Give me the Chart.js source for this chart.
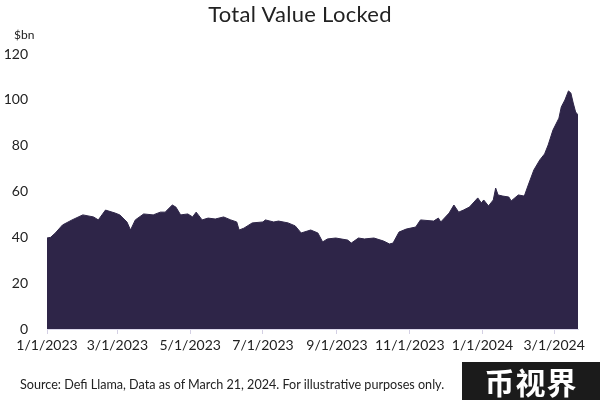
<!DOCTYPE html>
<html>
<head>
<meta charset="utf-8">
<script src="https://cdn.jsdelivr.net/npm/chart.js@4.4.1/dist/chart.umd.min.js"></script>
<style>
  body { margin: 0; background: #fff; }
  #wrap { position: relative; width: 600px; height: 400px; font-family: Lato, sans-serif; color: #222; }
  #title { position: absolute; top: 0px; left: 0; width: 600px; text-align: center; font-size: 22px; letter-spacing: 0.3px; }
  #unit { position: absolute; top: 27px; left: 14px; font-size: 12px; }
  #source { position: absolute; top: 377px; left: 20px; font-size: 12.6px; }
  #mark { position: absolute; left: 462px; top: 362px; width: 138px; height: 38px; background: #1b1b1b;
          color: #fff; font-family: "Noto Sans CJK SC", sans-serif; font-weight: bold; font-size: 30px;
          line-height: 38px; text-align: center; letter-spacing: 1px; }
</style>
</head>
<body>
<div id="wrap">
  <canvas id="tvlChart" width="600" height="400"></canvas>
  <div id="title">Total Value Locked</div>
  <div id="unit">$bn</div>
  <div id="source">Source: Defi Llama, Data as of March 21, 2024. For illustrative purposes only.</div>
  <div id="mark">币视界</div>
</div>
<script>
// days since 1/1/2023
const dayIndex = [0, 3, 7, 13, 21, 30, 39, 43, 49, 57, 61, 67, 70, 74, 81, 89, 95, 99, 105, 108,
  112, 118, 122, 125, 130, 135, 141, 148, 154, 159, 161, 165, 172, 181, 183, 190, 194, 202, 208, 213,
  221, 227, 231, 235, 242, 252, 255, 261, 266, 274, 282, 287, 290, 295, 301, 309, 313, 324, 328, 330,
  337, 341, 345, 349, 354, 361, 364, 366, 370, 374, 376, 378, 382, 387, 389, 395, 400, 403, 408, 413,
  417, 420, 424, 429, 431, 434, 437, 439, 441, 443, 445];
// TVL in $bn
const tvlValues = [39.7, 40.0, 41.9, 45.4, 47.6, 49.8, 48.9, 47.6, 51.9, 50.6, 49.8, 46.7, 43.2, 47.6, 50.2, 49.8, 51.0, 51.0, 54.1, 53.2,
  49.8, 50.2, 48.9, 51.0, 47.6, 48.4, 48.0, 48.9, 47.6, 46.7, 43.2, 44.0, 46.3, 46.7, 47.6, 46.7, 47.1, 46.3, 45.0, 41.9,
  43.2, 41.9, 38.0, 39.3, 39.7, 38.8, 37.5, 39.7, 39.3, 39.7, 38.4, 37.1, 37.5, 42.3, 43.6, 44.5, 47.6, 47.1, 48.4, 46.7,
  50.6, 54.1, 51.0, 51.9, 53.2, 57.2, 55.0, 56.3, 53.7, 56.3, 61.5, 58.5, 58.0, 57.6, 55.9, 58.5, 58.0, 62.4, 69.4, 73.8,
  76.4, 80.3, 86.8, 92.0, 96.9, 99.9, 103.9, 103.0, 98.6, 94.7, 93.4];

// x axis ticks (days since 1/1/2023) and their labels
const tickDays = [0, 59, 120, 181, 243, 304, 365, 425];
const tickLabels = ['1/1/2023', '3/1/2023', '5/1/2023', '7/1/2023', '9/1/2023', '11/1/2023', '1/1/2024', '3/1/2024'];

const points = dayIndex.map((d, i) => ({ x: d, y: tvlValues[i] }));

const ctx = document.getElementById('tvlChart').getContext('2d');
new Chart(ctx, {
  type: 'line',
  data: {
    datasets: [{
      data: points,
      borderColor: '#2e2548',
      backgroundColor: '#2e2548',
      borderWidth: 1,
      pointRadius: 0,
      tension: 0,
      fill: 'origin'
    }]
  },
  options: {
    responsive: false,
    animation: false,
    layout: { padding: { top: 54, right: 22, bottom: 48, left: 0 } },
    plugins: { legend: { display: false }, tooltip: { enabled: false } },
    scales: {
      x: {
        type: 'linear',
        min: 0,
        max: 445,
        afterBuildTicks: scale => { scale.ticks = tickDays.map(v => ({ value: v })); },
        afterFit: scale => { scale.height = 23; },
        ticks: {
          autoSkip: false,
          maxRotation: 0,
          color: '#222',
          font: { family: 'Lato', size: 14 },
          padding: 3,
          callback: (v) => tickLabels[tickDays.indexOf(v)]
        },
        grid: { drawOnChartArea: false, drawTicks: true, tickLength: 5, color: '#d4d0e4' },
        border: { display: true, color: '#dcd8ec' }
      },
      y: {
        min: 0,
        max: 120,
        afterFit: scale => { scale.width = 47; },
        ticks: { stepSize: 20, color: '#222', font: { family: 'Lato', size: 14 }, padding: 11 },
        grid: { display: false },
        border: { display: false }
      }
    }
  }
});
</script>
</body>
</html>
